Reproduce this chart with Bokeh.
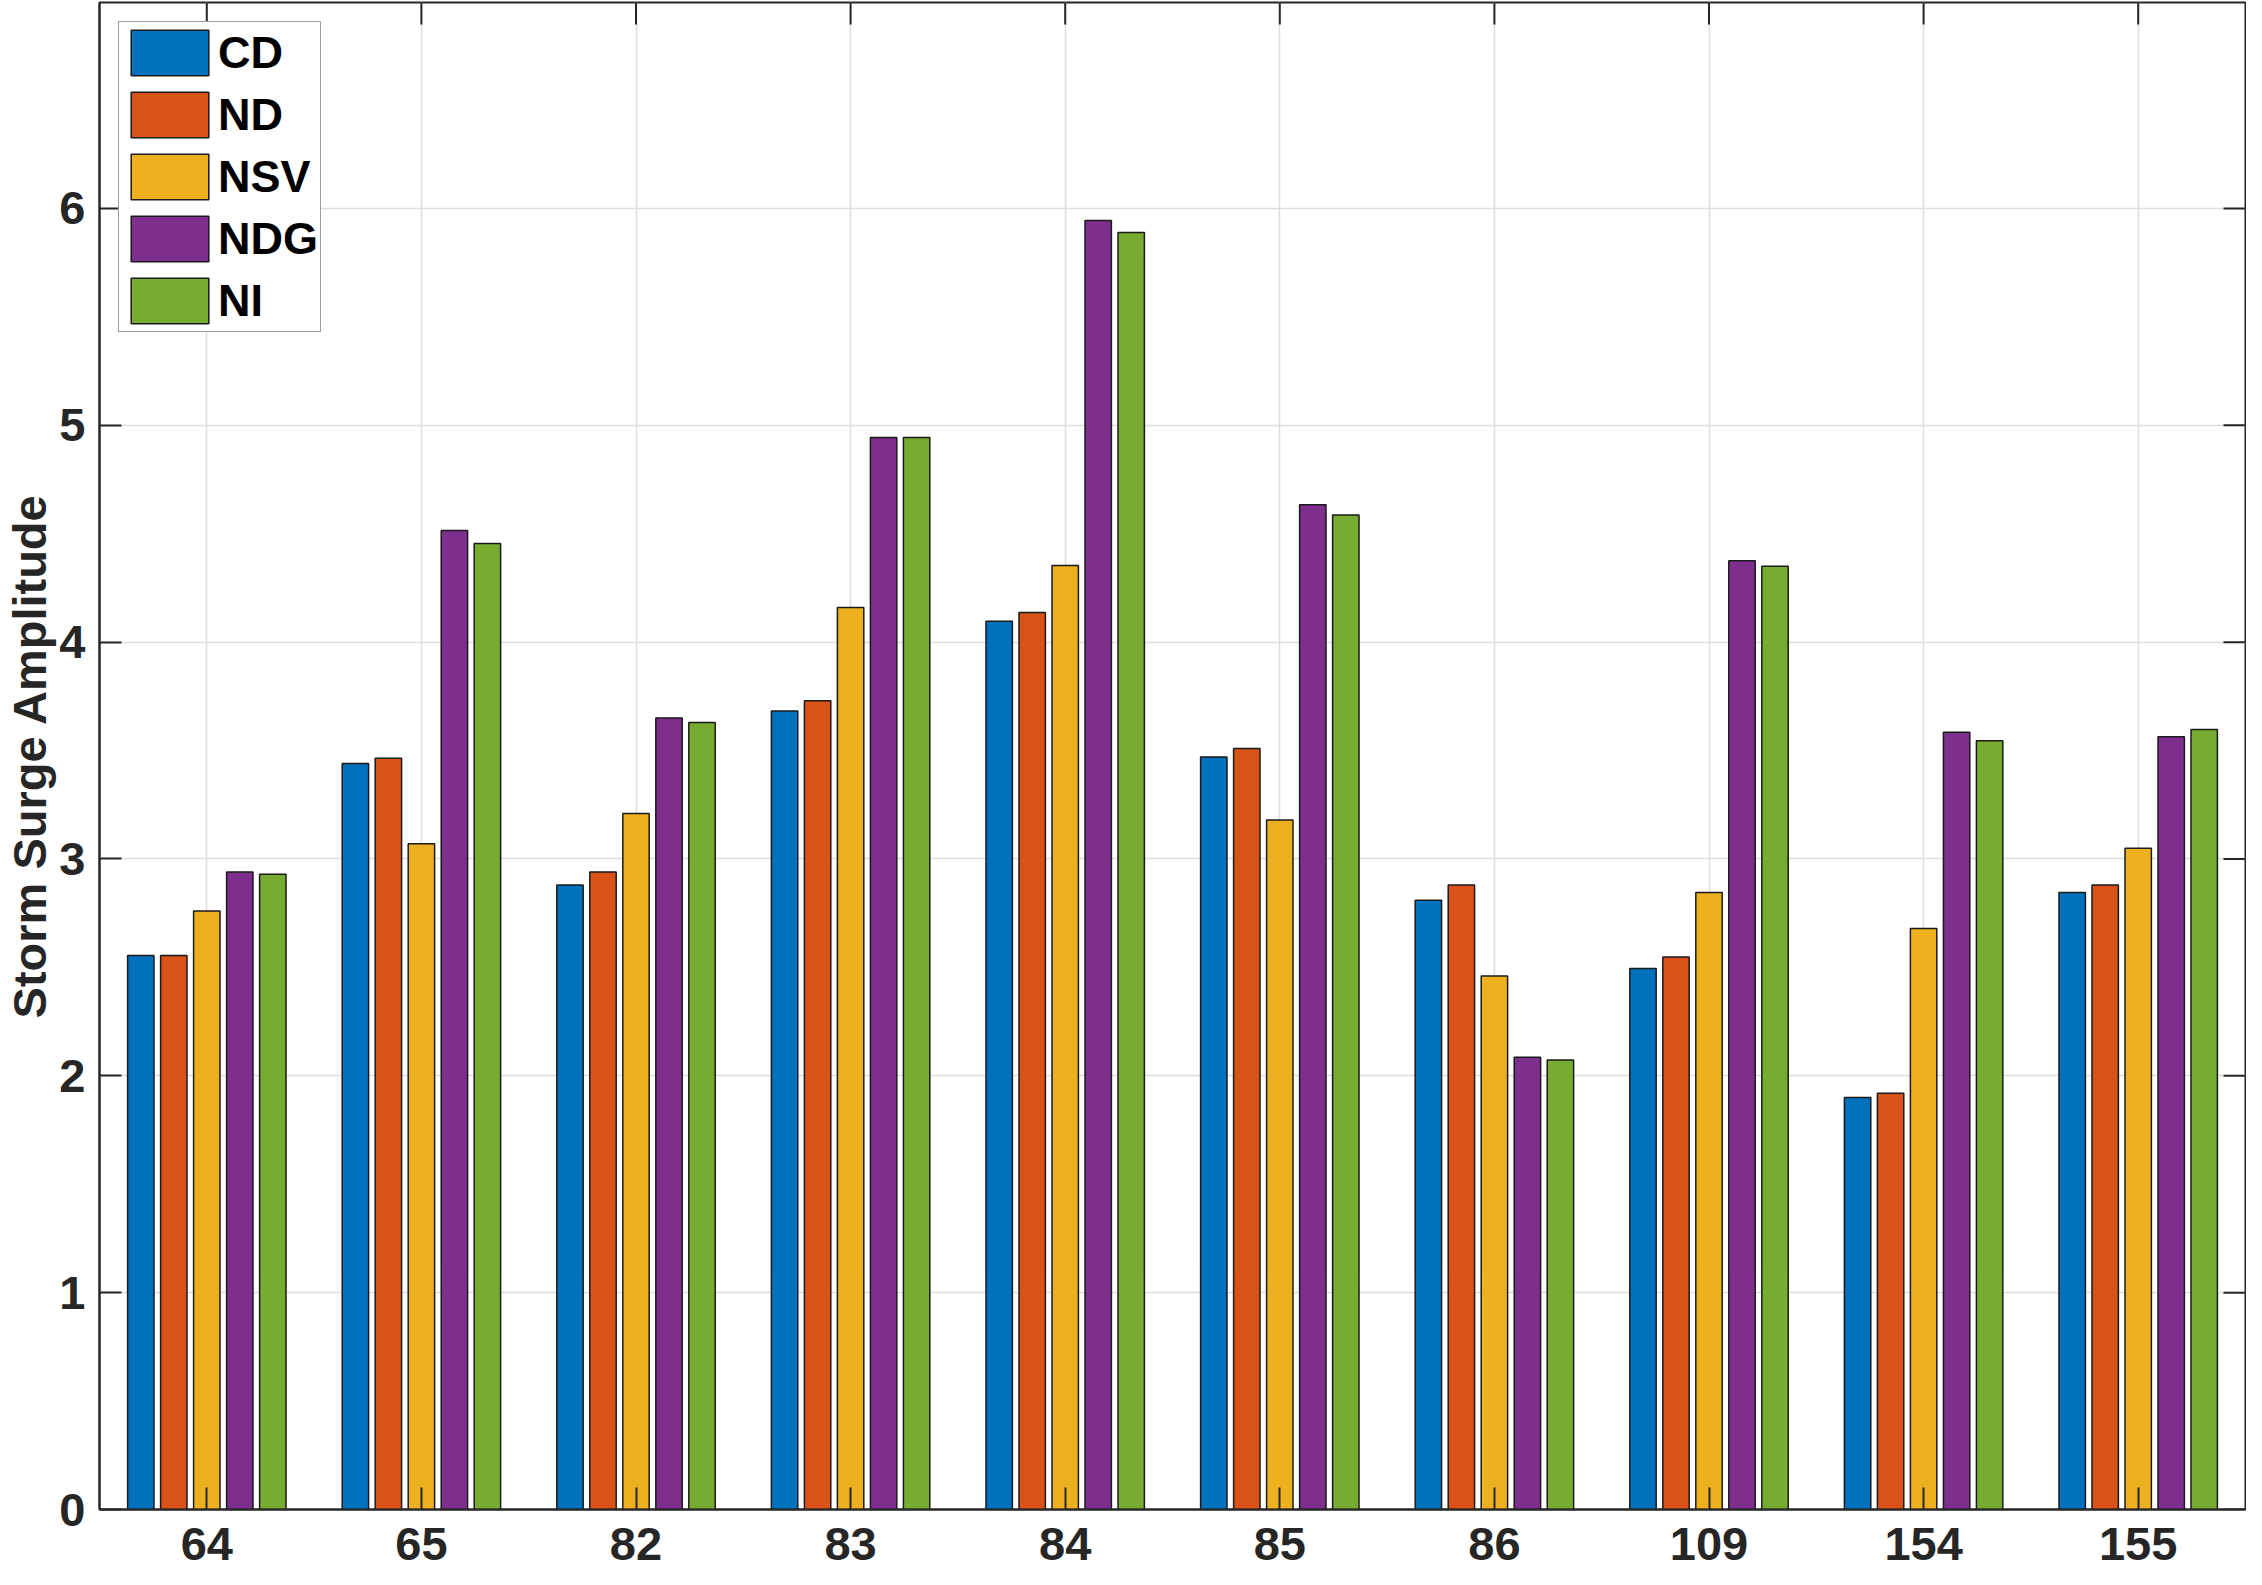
import math
from bokeh.plotting import figure
from bokeh.models import ColumnDataSource, FactorRange, Range1d, FixedTicker
from bokeh.transform import dodge
from bokeh.embed import file_html
from bokeh.resources import INLINE

# ---- data ----
stations = ["64", "65", "82", "83", "84", "85", "86", "109", "154", "155"]
series_names = ["CD", "ND", "NSV", "NDG", "NI"]
cd  = [2.555, 3.440, 2.880, 3.683, 4.096, 3.470, 2.810, 2.495, 1.900, 2.845]
nd  = [2.555, 3.465, 2.940, 3.730, 4.137, 3.510, 2.880, 2.548, 1.920, 2.880]
nsv = [2.760, 3.070, 3.210, 4.160, 4.354, 3.180, 2.460, 2.845, 2.680, 3.050]
ndg = [2.940, 4.515, 3.650, 4.944, 5.945, 4.634, 2.086, 4.376, 3.584, 3.564]
ni  = [2.930, 4.455, 3.630, 4.944, 5.889, 4.587, 2.073, 4.350, 3.545, 3.597]
y_ticks = [0, 1, 2, 3, 4, 5, 6]
y_max = 6.95
y_label = "Storm Surge Amplitude"

colors = ["#0072BD", "#D95319", "#EDB120", "#7E2F8E", "#77AC30"]
FONT = "Liberation Sans"
TXT = "#262626"

src = ColumnDataSource(dict(station=stations, CD=cd, ND=nd, NSV=nsv, NDG=ndg, NI=ni))

p = figure(width=2246, height=1569,
           x_range=FactorRange(factors=stations, range_padding=0),
           y_range=Range1d(0, y_max),
           output_backend="svg", toolbar_location=None,
           min_border_left=84, min_border_right=1, min_border_top=2,
           min_border_bottom=60)

step = 0.1538
bar_w = 0.123
for i, (name, col) in enumerate(zip(series_names, colors)):
    off = (i - 2) * step
    p.vbar(x=dodge("station", off, range=p.x_range), top=name, width=bar_w,
           source=src, fill_color=col, line_color="#1a1a1a", line_width=1.5,
           legend_label=name)

# grids
p.xgrid.grid_line_color = "#dedede"
p.xgrid.grid_line_width = 1.5
p.ygrid.grid_line_color = "#dedede"
p.ygrid.grid_line_width = 1.5
p.ygrid.ticker = FixedTicker(ticks=y_ticks)

# main axes
for ax in (p.xaxis[0], p.yaxis[0]):
    ax.axis_line_color = TXT
    ax.axis_line_width = 2
    ax.major_tick_line_color = TXT
    ax.major_tick_line_width = 2
    ax.major_tick_in = 22
    ax.major_tick_out = 0
    ax.minor_tick_line_color = None
    ax.major_label_text_font = FONT
    ax.major_label_text_font_style = "bold"
    ax.major_label_text_font_size = "47px"
    ax.major_label_text_color = TXT

p.yaxis[0].ticker = FixedTicker(ticks=y_ticks)
p.yaxis[0].major_label_standoff = 14
p.yaxis[0].axis_label = y_label
p.yaxis[0].axis_label_standoff = 0
p.yaxis[0].axis_label_text_font = FONT
p.yaxis[0].axis_label_text_font_style = "bold"
p.yaxis[0].axis_label_text_font_size = "47px"
p.yaxis[0].axis_label_text_color = TXT
p.xaxis[0].major_label_standoff = 18
p.xaxis[0].major_label_text_line_height = 1.12

# inward tick marks on the top and right edges of the box
top_src = ColumnDataSource(dict(x=stations, y=[y_max] * len(stations)))
p.ray(x="x", y="y", length=22, length_units="screen", angle=-math.pi / 2,
      source=top_src, line_color=TXT, line_width=2)
right_src = ColumnDataSource(dict(x=[stations[-1]] * len(y_ticks), y=y_ticks))
p.ray(x=dodge("x", 0.5, range=p.x_range), y="y", length=22, length_units="screen",
      angle=math.pi, source=right_src, line_color=TXT, line_width=2)

p.outline_line_color = TXT
p.outline_line_width = 2

# legend
lg = p.legend[0]
lg.location = "top_left"
lg.margin = 19
lg.padding = 2
lg.spacing = 5
lg.glyph_width = 97
lg.glyph_height = 57
lg.label_standoff = 0
lg.label_text_font = FONT
lg.label_text_font_style = "bold"
lg.label_text_font_size = "45px"
lg.label_text_color = "black"
lg.border_line_color = "#404040"
lg.border_line_width = 1.5
lg.background_fill_color = "white"
lg.background_fill_alpha = 1.0

open("out.html", "w").write(file_html(p, INLINE))
